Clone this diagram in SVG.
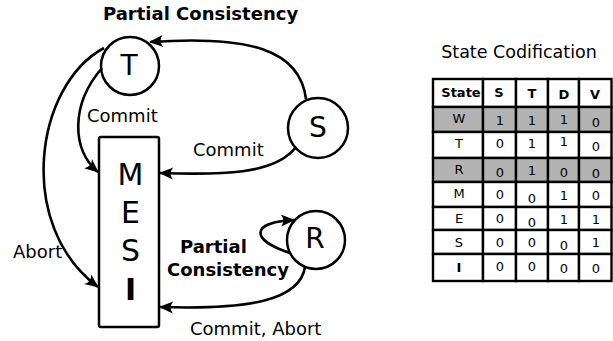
<svg xmlns="http://www.w3.org/2000/svg" width="613" height="341" viewBox="0 0 613 341">
  <style>
    text { font-family: "DejaVu Sans", "Liberation Sans", sans-serif; fill: #000; }
    .lbl { font-size: 18px; }
    .bold { font-weight: bold; }
    .state { fill: #fff; stroke: #000; stroke-width: 2.5; }
    .big { font-size: 30px; text-anchor: middle; }
    .circ { font-size: 28px; text-anchor: middle; }
    .edge { fill: none; stroke: #000; stroke-width: 2.6; marker-end: url(#arrow); }
    .cell { fill: #fff; stroke: #000; stroke-width: 2.4; }
    .cell.hi { fill: #b3b3b3; }
    .tv { font-size: 13px; text-anchor: middle; }
    .th { font-size: 13px; font-weight: bold; text-anchor: middle; }
  </style>
  <defs>
    <marker id="arrow" viewBox="-15 -8 17 16" refX="0" refY="0" markerWidth="17" markerHeight="16" markerUnits="userSpaceOnUse" orient="auto">
      <path d="M1,0 L-13,-6 Q-8,0 -13,6 Z" fill="#000"/>
    </marker>
  </defs>

  <!-- state machine labels -->
  <text class="lbl bold" x="103" y="20">Partial Consistency</text>
  <text class="lbl" x="87" y="122">Commit</text>
  <text class="lbl" x="193" y="156">Commit</text>
  <text class="lbl" x="13" y="258">Abort</text>
  <text class="lbl bold" x="180" y="253" font-size="17.5">Partial</text>
  <text class="lbl bold" x="167" y="276" font-size="17.5">Consistency</text>
  <text class="lbl" x="190" y="335">Commit, Abort</text>

  <!-- nodes -->
  <g id="node-T">
    <circle class="state" cx="130" cy="66" r="29"/>
    <text class="circ" x="129" y="75">T</text>
  </g>
  <g id="node-S">
    <circle class="state" cx="318" cy="128" r="30"/>
    <text class="circ" x="318" y="137">S</text>
  </g>
  <g id="node-R">
    <circle class="state" cx="316" cy="240" r="29"/>
    <text class="circ" x="315" y="248">R</text>
  </g>
  <g id="node-MESI">
    <rect class="state" x="99" y="137" width="60" height="190" rx="2"/>
    <text class="big" x="130.5" y="185">M</text>
    <text class="big" x="130.5" y="223">E</text>
    <text class="big" x="130.5" y="261">S</text>
    <text class="big" x="130.5" y="300" font-weight="bold">I</text>
  </g>

  <!-- transitions -->
  <g id="connectors">
    <path class="edge" d="M306,99 C300,50 250,35 150,42"/>
    <path class="edge" d="M296,147 C275,175 220,175 160,173"/>
    <path class="edge" d="M102,68 C70,105 72,150 98,172"/>
    <path class="edge" d="M104,48 C35,85 15,225 98,287"/>
    <path class="edge" d="M290,253 C250,240 250,222 294,220"/>
    <path class="edge" d="M305,267 C300,300 250,310 160,307"/>
  </g>

  <!-- encoding table -->
  <text x="519" y="58" font-size="17.5" text-anchor="middle">State Codification</text>
  <g id="table">
    <!-- header -->
    <rect class="cell" x="433" y="79" width="50" height="28"/>
    <rect class="cell" x="483" y="79" width="33" height="28"/>
    <rect class="cell" x="516" y="79" width="32" height="28"/>
    <rect class="cell" x="548" y="79" width="31" height="28"/>
    <rect class="cell" x="579" y="79" width="32.5" height="28"/>
    <!-- W -->
    <rect class="cell hi" x="433" y="107" width="50" height="25"/>
    <rect class="cell hi" x="483" y="107" width="33" height="25"/>
    <rect class="cell hi" x="516" y="107" width="32" height="25"/>
    <rect class="cell hi" x="548" y="107" width="31" height="25"/>
    <rect class="cell hi" x="579" y="107" width="32.5" height="25"/>
    <!-- T -->
    <rect class="cell" x="433" y="132" width="50" height="26"/>
    <rect class="cell" x="483" y="132" width="33" height="26"/>
    <rect class="cell" x="516" y="132" width="32" height="26"/>
    <rect class="cell" x="548" y="132" width="31" height="26"/>
    <rect class="cell" x="579" y="132" width="32.5" height="26"/>
    <!-- R -->
    <rect class="cell hi" x="433" y="158" width="50" height="24"/>
    <rect class="cell hi" x="483" y="158" width="33" height="24"/>
    <rect class="cell hi" x="516" y="158" width="32" height="24"/>
    <rect class="cell hi" x="548" y="158" width="31" height="24"/>
    <rect class="cell hi" x="579" y="158" width="32.5" height="24"/>
    <!-- M -->
    <rect class="cell" x="433" y="182" width="50" height="25"/>
    <rect class="cell" x="483" y="182" width="33" height="25"/>
    <rect class="cell" x="516" y="182" width="32" height="25"/>
    <rect class="cell" x="548" y="182" width="31" height="25"/>
    <rect class="cell" x="579" y="182" width="32.5" height="25"/>
    <!-- E -->
    <rect class="cell" x="433" y="207" width="50" height="23"/>
    <rect class="cell" x="483" y="207" width="33" height="23"/>
    <rect class="cell" x="516" y="207" width="32" height="23"/>
    <rect class="cell" x="548" y="207" width="31" height="23"/>
    <rect class="cell" x="579" y="207" width="32.5" height="23"/>
    <!-- S -->
    <rect class="cell" x="433" y="230" width="50" height="24"/>
    <rect class="cell" x="483" y="230" width="33" height="24"/>
    <rect class="cell" x="516" y="230" width="32" height="24"/>
    <rect class="cell" x="548" y="230" width="31" height="24"/>
    <rect class="cell" x="579" y="230" width="32.5" height="24"/>
    <!-- I -->
    <rect class="cell" x="433" y="254" width="50" height="27"/>
    <rect class="cell" x="483" y="254" width="33" height="27"/>
    <rect class="cell" x="516" y="254" width="32" height="27"/>
    <rect class="cell" x="548" y="254" width="31" height="27"/>
    <rect class="cell" x="579" y="254" width="32.5" height="27"/>

    <text class="th" x="461" y="97">State</text>
    <text class="th" x="499" y="97">S</text>
    <text class="th" x="532" y="98">T</text>
    <text class="th" x="564" y="99">D</text>
    <text class="th" x="595" y="99">V</text>

    <text class="tv" x="459" y="123">W</text>
    <text class="tv" x="500" y="125">1</text>
    <text class="tv" x="532" y="125">1</text>
    <text class="tv" x="564" y="124">1</text>
    <text class="tv" x="596" y="127">0</text>

    <text class="tv" x="459" y="148">T</text>
    <text class="tv" x="500" y="148">0</text>
    <text class="tv" x="532" y="148">1</text>
    <text class="tv" x="564" y="146">1</text>
    <text class="tv" x="596" y="151">0</text>

    <text class="tv" x="459" y="174">R</text>
    <text class="tv" x="500" y="177">0</text>
    <text class="tv" x="532" y="175">1</text>
    <text class="tv" x="564" y="177">0</text>
    <text class="tv" x="596" y="178">0</text>

    <text class="tv" x="459" y="198">M</text>
    <text class="tv" x="500" y="199">0</text>
    <text class="tv" x="532" y="203">0</text>
    <text class="tv" x="564" y="200">1</text>
    <text class="tv" x="596" y="200">0</text>

    <text class="tv" x="459" y="223">E</text>
    <text class="tv" x="500" y="223">0</text>
    <text class="tv" x="532" y="227">0</text>
    <text class="tv" x="564" y="224">1</text>
    <text class="tv" x="596" y="224">1</text>

    <text class="tv" x="459" y="247">S</text>
    <text class="tv" x="500" y="247">0</text>
    <text class="tv" x="532" y="247">0</text>
    <text class="tv" x="564" y="250">0</text>
    <text class="tv" x="596" y="247">1</text>

    <text class="tv" x="459" y="272" font-weight="bold">I</text>
    <text class="tv" x="500" y="271">0</text>
    <text class="tv" x="532" y="271">0</text>
    <text class="tv" x="564" y="273">0</text>
    <text class="tv" x="596" y="273">0</text>
  </g>
</svg>
